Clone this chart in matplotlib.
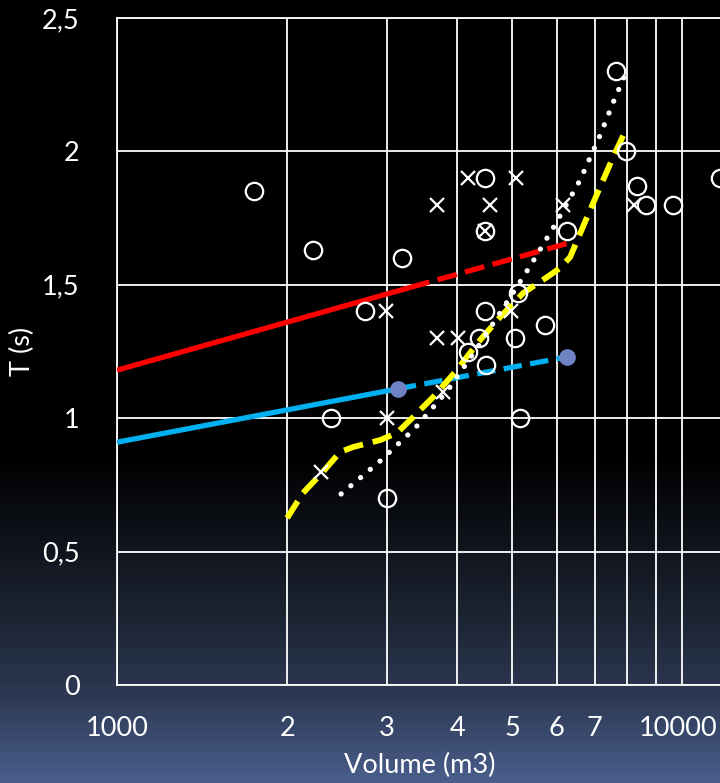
import numpy as np
import matplotlib
matplotlib.use("Agg")
import matplotlib.pyplot as plt
from matplotlib.colors import LinearSegmentedColormap
from matplotlib.transforms import ScaledTranslation

plt.rcParams['font.family'] = ['Lato', 'DejaVu Sans']

# ---- data -------------------------------------------------------------
# open-circle observations (volume m3, period s)
circle_v = [1748, 2223, 3196, 2748, 2392, 3000, 4480, 4480, 7640, 7960,
            8320, 8640, 9640, 11670, 6260, 4480, 4370, 4180, 4500, 5060,
            5130, 5720, 5170]
circle_t = [1.85, 1.63, 1.60, 1.40, 1.00, 0.70, 1.90, 1.70, 2.30, 2.00,
            1.87, 1.80, 1.80, 1.90, 1.70, 1.40, 1.30, 1.25, 1.20, 1.30,
            1.47, 1.35, 1.00]

# cross observations
cross_v = [4180, 5080, 3690, 4570, 6160, 8230, 2990, 3000, 2300, 3690,
           4010, 4980, 3780, 4480]
cross_t = [1.90, 1.90, 1.80, 1.80, 1.80, 1.80, 1.40, 1.00, 0.80, 1.30,
           1.30, 1.40, 1.10, 1.70]

# red relation: solid part and extrapolated (dashed) part
red_solid_v = [1000, 3300]
red_solid_t = [1.18, 1.49]
red_dash_v = [3300, 6260]
red_dash_t = [1.49, 1.655]

# blue relation with its two end markers
blue_solid_v = [1000, 3140]
blue_solid_t = [0.91, 1.11]
blue_dash_v = [3140, 6260]
blue_dash_t = [1.11, 1.23]
blue_pts_v = [3140, 6260]
blue_pts_t = [1.11, 1.23]

# yellow dashed curve
yellow_v = [2000, 2134, 2305, 2481, 2617, 2921, 3130, 3301, 3625, 3965,
            4390, 4763, 5232, 5769, 6082, 6336, 6789, 7160, 7550, 7993]
yellow_t = [0.626, 0.720, 0.795, 0.873, 0.892, 0.918, 0.945, 0.993, 1.079,
            1.173, 1.293, 1.379, 1.469, 1.529, 1.563, 1.604, 1.754, 1.867,
            1.979, 2.091]

# white dotted curve
dotted_v = [2492, 2909, 3369, 3853, 4337, 4823, 5383, 5984, 6600, 7160,
            7582, 7895]
dotted_t = [0.716, 0.836, 0.963, 1.106, 1.263, 1.413, 1.570, 1.732, 1.893,
            2.061, 2.193, 2.279]

x_ticks = [1000, 2000, 3000, 4000, 5000, 6000, 7000, 8000, 9000, 10000]
x_tick_labels = ["1000", "2", "3", "4", "5", "6", "7", "", "", "10000"]
y_ticks = [0, 0.5, 1, 1.5, 2, 2.5]
y_tick_labels = ["0", "0,5", "1", "1,5", "2", "2,5"]

# ---- figure -----------------------------------------------------------
W, H = 720, 783
fig = plt.figure(figsize=(W / 100, H / 100), dpi=100)

# background: black on top fading to slate blue at the bottom
bg = fig.add_axes([0, 0, 1, 1], zorder=-10)
bg.set_axis_off()
cmap = LinearSegmentedColormap.from_list(
    "bg", [(0.0, "#000000"), (0.58, "#000000"), (0.70, "#10141d"),
           (0.81, "#1f2838"), (0.894, "#2e3a55"), (1.0, "#4a5e8c")])
grad = np.linspace(0, 1, 800).reshape(-1, 1)
bg.imshow(grad, aspect="auto", cmap=cmap, extent=[0, 1, 0, 1],
          origin="upper")
bg.set_xlim(0, 1)
bg.set_ylim(0, 1)

left, right, top, bottom = 117, 720, 18, 685
ax = fig.add_axes([left / W, 1 - bottom / H, (right - left) / W,
                   (bottom - top) / H])
ax.patch.set_alpha(0)
ax.set_xscale("log")
ax.set_xlim(1000, 11667)
ax.set_ylim(0, 2.5)

ax.set_xticks(x_ticks)
ax.set_xticklabels(x_tick_labels)
ax.xaxis.set_minor_locator(matplotlib.ticker.NullLocator())
ax.set_yticks(y_ticks)
ax.set_yticklabels(y_tick_labels)
ax.tick_params(axis="both", length=0, labelsize=19.5, colors="white")
ax.tick_params(axis="x", pad=22)
ax.tick_params(axis="y", pad=27)

# nudge the last x label so it stays inside the canvas
last = ax.get_xticklabels()[-1]
last.set_transform(last.get_transform()
                   + ScaledTranslation(-4 / 100, 0, fig.dpi_scale_trans))

ax.grid(True, color="white", linewidth=1.3)
ax.set_axisbelow(True)
for side in ("left", "bottom", "top"):
    ax.spines[side].set_color("white")
    ax.spines[side].set_linewidth(1.3)
ax.spines["right"].set_visible(False)

# fitted relations
ax.plot(red_solid_v, red_solid_t, color="#ff0000", lw=3.8,
        solid_capstyle="butt", zorder=3)
ax.plot(red_dash_v, red_dash_t, color="#ff0000", lw=3.8,
        linestyle=(0, (3.8, 1.6)), zorder=3)
ax.plot(blue_solid_v, blue_solid_t, color="#00b0f0", lw=3.8,
        solid_capstyle="butt", zorder=3)
ax.plot(blue_dash_v, blue_dash_t, color="#00b0f0", lw=3.8,
        linestyle=(0, (3.5, 1.6)), zorder=3)
ax.plot(blue_pts_v, blue_pts_t, linestyle="none", marker="o",
        markersize=11, color="#7083c4", zorder=5)
ax.plot(yellow_v, yellow_t, color="#ffff00", lw=4.2,
        linestyle=(0, (3.4, 1.7)), zorder=4)
ax.plot(dotted_v, dotted_t, color="white", lw=3.8,
        linestyle=(0, (0.01, 2.4)), dash_capstyle="round", zorder=4)

# observations
ax.plot(circle_v, circle_t, linestyle="none", marker="o", markersize=12.5,
        markerfacecolor="none", markeredgecolor="white", markeredgewidth=1.6,
        zorder=6, clip_on=False)
ax.plot(cross_v, cross_t, linestyle="none", marker="x", markersize=9.5,
        color="white", markeredgewidth=1.6, zorder=6)

fig.text(22 / W, 1 - 351 / H, "T (s)", rotation=90, color="white",
         fontsize=19.5, ha="center", va="center")
fig.text(420 / W, 1 - 765 / H, "Volume (m3)", color="white",
         fontsize=19.5, ha="center", va="center")

fig.savefig("out.png", dpi=100)
